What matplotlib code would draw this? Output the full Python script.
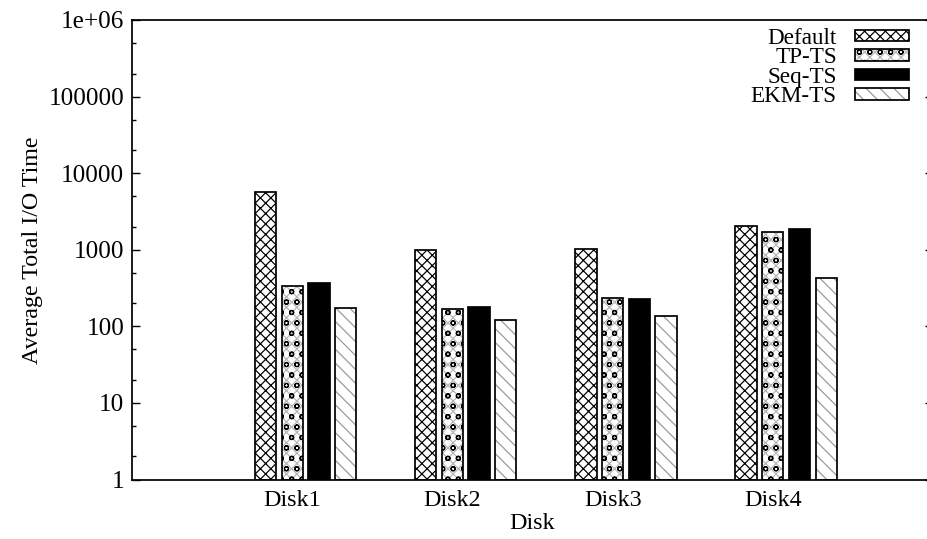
import matplotlib
matplotlib.use("Agg")
import matplotlib.pyplot as plt
import numpy as np
from matplotlib.patches import Patch
from matplotlib.legend_handler import HandlerTuple
from matplotlib.ticker import FixedLocator, NullFormatter

# ---- data ----
disks = ["Disk1", "Disk2", "Disk3", "Disk4"]
series_names = ["Default", "TP-TS", "Seq-TS", "EKM-TS"]
default_vals = [5600, 994, 1024, 2030]
tpts_vals = [336, 165, 234, 1710]
seqts_vals = [368, 179, 227, 1870]
ekmts_vals = [172, 119, 135, 424]
ytick_vals = [1, 10, 100, 1000, 10000, 100000, 1000000]
ytick_labels = ["1", "10", "100", "1000", "10000", "100000", "1e+06"]

plt.rcParams['font.family'] = ['Liberation Serif', 'DejaVu Serif']
plt.rcParams['hatch.linewidth'] = 0.7

DPI = 125
fig = plt.figure(figsize=(927 / DPI, 539 / DPI), dpi=DPI)
ax = fig.add_axes([132 / 927, 1 - 479.5 / 539, 801 / 927, 459.5 / 539])

values = [default_vals, tpts_vals, seqts_vals, ekmts_vals]
# each style: face colour + list of (hatch, hatch colour) layers
styles = [
    ("white", [("xxxx", "black")]),
    ("white", [("xxxx", "#b5b5b5"), ("oo", "black")]),
    ("black", []),
    ("white", [("\\\\\\", "#999999")]),
]
x = np.arange(len(disks))
slot = 1 / 6
width = 0.8 * slot
handles = []
for i, (vals, (face, layers)) in enumerate(zip(values, styles)):
    pos = x + (i - 1) * slot
    ax.bar(pos, vals, width=width, bottom=1, color=face, linewidth=0, zorder=2)
    hparts = [Patch(facecolor=face, linewidth=0)]
    for hatch, hcol in layers:
        ax.bar(pos, vals, width=width, bottom=1, facecolor="none",
               edgecolor=hcol, hatch=hatch, linewidth=0, zorder=2.5)
        hparts.append(Patch(facecolor="none", edgecolor=hcol, hatch=hatch, linewidth=0))
    ax.bar(pos, vals, width=width, bottom=1, facecolor="none",
           edgecolor="black", linewidth=1.0, zorder=3)
    hparts.append(Patch(facecolor="none", edgecolor="black", linewidth=1.0))
    handles.append(tuple(hparts))

ax.set_yscale("log")
ax.set_ylim(1, 1e6)
ax.set_xlim(-1, 4)
ax.set_yticks(ytick_vals)
ax.set_yticklabels(ytick_labels)
minor = [m * 10 ** d for d in range(0, 6) for m in (2, 5)]
ax.yaxis.set_minor_locator(FixedLocator(minor))
ax.yaxis.set_minor_formatter(NullFormatter())
ax.set_xticks(x)
ax.set_xticklabels(disks)

ax.tick_params(axis="y", which="major", direction="in", length=4.6, width=0.8,
               right=True, labelsize=14.5, pad=4.5)
ax.tick_params(axis="y", which="minor", direction="in", length=2.4, width=0.8, right=True)
ax.tick_params(axis="x", which="both", length=0, labelsize=13.8, pad=6)
for s in ax.spines.values():
    s.set_linewidth(1.0)

ax.set_xlabel("Disk", fontsize=13.8, labelpad=1)
ax.set_ylabel("Average Total I/O Time", fontsize=13.8, labelpad=3)

leg = ax.legend(handles, series_names,
                handler_map={tuple: HandlerTuple(ndivide=1, pad=0)},
                loc="upper right", bbox_to_anchor=(0.970, 0.9825), borderaxespad=0,
                borderpad=0, frameon=False, markerfirst=False, fontsize=13.3,
                handlelength=2.33, handleheight=0.38, handletextpad=0.8,
                labelspacing=-0.07)
for t in leg.get_texts():
    t.set_ha("right")

fig.savefig("out.png", dpi=DPI)
